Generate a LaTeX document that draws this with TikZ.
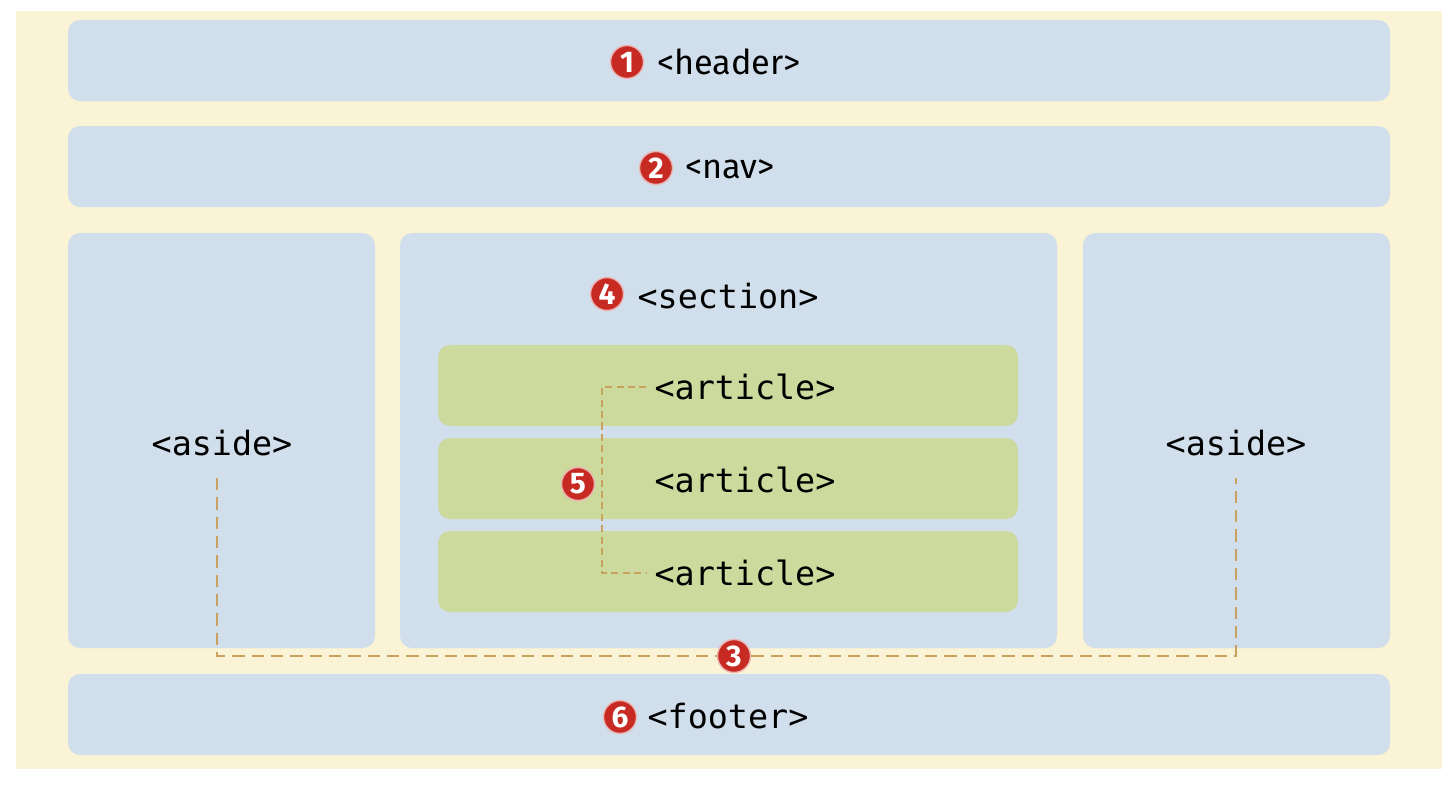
\documentclass[tikz,border=0pt]{standalone}
\usepackage{fontspec}
\setmonofont{DejaVu Sans Mono}
\newfontfamily\headfont{Fira Sans}
\definecolor{cream}{HTML}{FAF3D5}
\definecolor{panelblue}{HTML}{D1DEEB}
\definecolor{artgreen}{HTML}{CDDA9E}
\definecolor{numred}{HTML}{C62A22}
\definecolor{linkcol}{HTML}{C8A25E}
\begin{document}
\begin{tikzpicture}[x=0.02cm, y=-0.02cm,
    panel/.style={fill=panelblue, rounded corners=0.24cm},
    artbox/.style={fill=artgreen, rounded corners=0.24cm},
    tag/.style={font=\ttfamily\fontsize{19}{22}\selectfont, inner sep=1pt},
    headtag/.style={font=\headfont\fontsize{19.5}{22}\selectfont, inner sep=1pt},
    num/.style={circle, fill=numred, draw=numred!35, line width=0.8pt, text=white,
        inner sep=0pt, minimum size=0.66cm, font=\headfont\bfseries\fontsize{17}{17}\selectfont},
    link/.style={draw=linkcol, dash pattern=on 7pt off 4pt, line width=1.1pt},
    brace/.style={draw=linkcol, dash pattern=on 4pt off 2.5pt, line width=0.6pt}]
    \fill[white] (0,0) rectangle (1455,785);
    \fill[cream] (16,11) rectangle (1442,769);
    % boxes
    \foreach \y in {20,126,674}
        \fill[panel] (68,\y) rectangle (1390,\y+81);
    \foreach \a/\b in {68/375,400/1057,1083/1390}
        \fill[panel] (\a,233) rectangle (\b,648);
    \foreach \y in {345,438,531}
        \fill[artbox] (438,\y) rectangle (1018,\y+81);
    % labels
    \node[headtag] (header) at (729,62) {<header>};
    \node[headtag] (nav) at (730,169) {<nav>};
    \node[tag] (section) at (728,296) {<section>};
    \node[tag] (asideL) at (222,443) {<aside>};
    \node[tag] (asideR) at (1236,443) {<aside>};
    \node[tag] (footer) at (728,716) {<footer>};
    \foreach \y [count=\i] in {387,480,573}
        \node[tag] (art\i) at (745,\y) {<article>};
    % numbers
    \node[num] (n1) at (627,62) {1};
    \node[num] (n2) at (656,168) {2};
    \node[num] (n3) at (734,656) {3};
    \node[num] (n4) at (607,294) {4};
    \node[num] (n5) at (578,484) {5};
    \node[num] (n6) at (620,717) {6};
    % connectors
    \coordinate (brk) at (602,480);
    \draw[brace] ([xshift=-0.12cm]art1.west) -| (brk) |- ([xshift=-0.12cm]art3.west);
    \draw[link] ([xshift=-0.1cm,yshift=-0.4cm]asideL.south) |- (n3.west);
    \draw[link] (n3.east) -| ([yshift=-0.4cm]asideR.south);
\end{tikzpicture}
\end{document}
